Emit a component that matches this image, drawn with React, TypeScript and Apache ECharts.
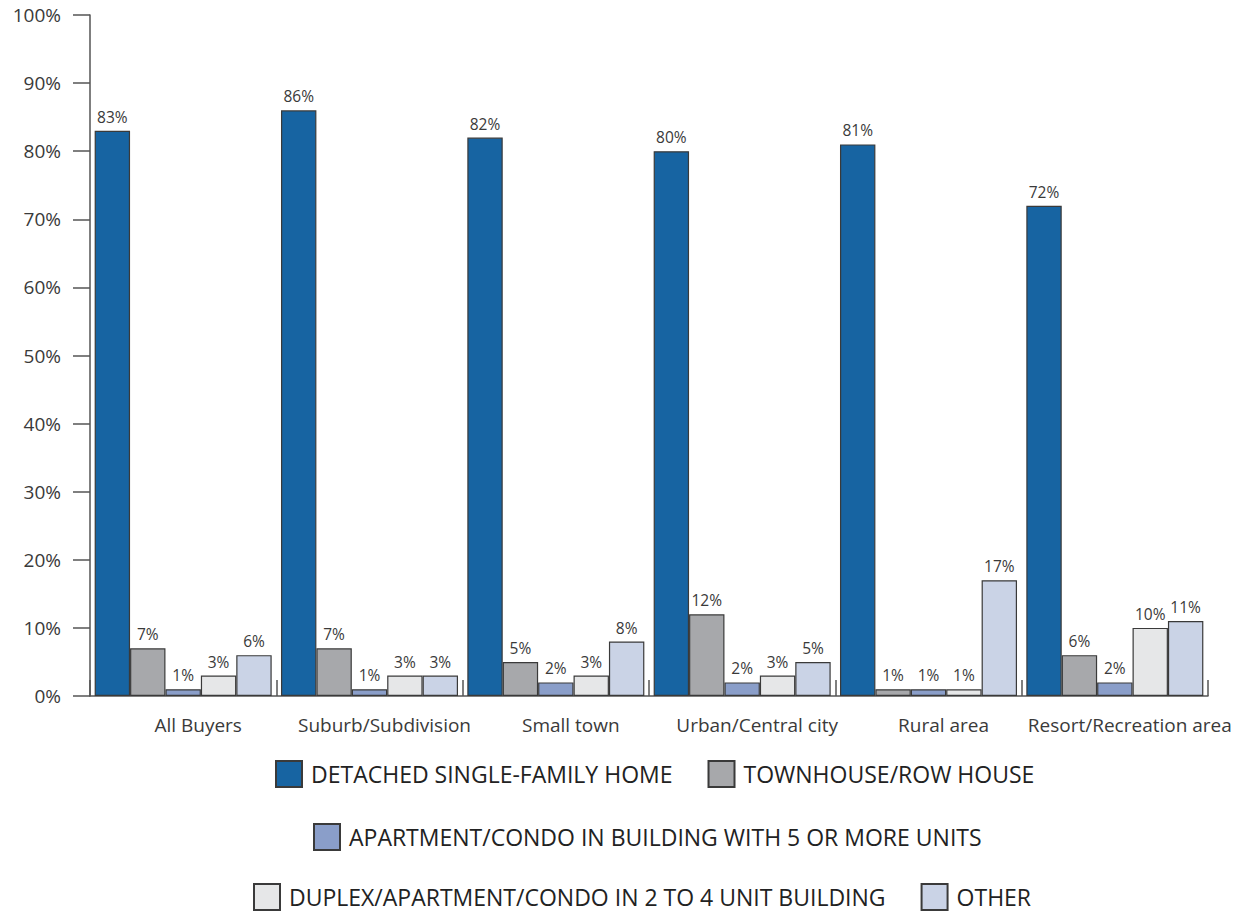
import React, { useEffect, useRef } from "react";
import * as echarts from "echarts";

const categories = [
  "All Buyers",
  "Suburb/Subdivision",
  "Small town",
  "Urban/Central city",
  "Rural area",
  "Resort/Recreation area",
];

const seriesNames = [
  "DETACHED SINGLE-FAMILY HOME",
  "TOWNHOUSE/ROW HOUSE",
  "APARTMENT/CONDO IN BUILDING WITH 5 OR MORE UNITS",
  "DUPLEX/APARTMENT/CONDO IN 2 TO 4 UNIT BUILDING",
  "OTHER",
];

const detached = [83, 86, 82, 80, 81, 72];
const townhouse = [7, 7, 5, 12, 1, 6];
const apartment5 = [1, 1, 2, 2, 1, 2];
const duplex = [3, 3, 3, 3, 1, 10];
const other = [6, 3, 8, 5, 17, 11];

const colors = ["#1764a2", "#a7a8ab", "#8a9ec9", "#e6e7e8", "#cad3e6"];

const mainFont = "'Open Sans', 'Lato', sans-serif";

export default function App() {
  const ref = useRef<HTMLDivElement>(null);
  useEffect(() => {
    if (!ref.current) return;
    const chart = echarts.init(ref.current, undefined, { renderer: "svg" });
    const values = [detached, townhouse, apartment5, duplex, other];
    const series = values.map((v, i) => ({
      name: seriesNames[i],
      type: "bar",
      data: v,
      barGap: "0%",
      barCategoryGap: "5%",
      itemStyle: { color: colors[i], borderColor: "#3a3a3a", borderWidth: 1.2 },
      label: {
        show: true,
        position: "top",
        distance: 6,
        formatter: "{c}%",
        color: "#3a3a3a",
        fontSize: 15.5,
        fontFamily: mainFont,
      },
    }));
    const legendCommon = {
      padding: 0,
      itemWidth: 26,
      itemHeight: 26,
      itemGap: 35,
      icon: "rect",
      textStyle: {
        fontSize: 23,
        lineHeight: 26,
        color: "#222",
        fontFamily: mainFont,
        padding: [0, 0, 0, 4],
      },
      selectedMode: false,
    };
    chart.setOption({
      animation: false,
      textStyle: { fontFamily: mainFont },
      grid: { left: 90, right: 30, top: 15, bottom: 218, containLabel: false },
      legend: [
        { ...legendCommon, left: 275, top: 760, data: [seriesNames[0], seriesNames[1]] },
        { ...legendCommon, left: 313, top: 823, data: [seriesNames[2]] },
        { ...legendCommon, left: 253, top: 883, data: [seriesNames[3], seriesNames[4]] },
      ],
      xAxis: {
        type: "category",
        data: categories,
        axisLine: { show: true, lineStyle: { color: "#555", width: 1.5 } },
        axisTick: { show: true, inside: true, length: 16, lineStyle: { color: "#555", width: 1.5 } },
        axisLabel: {
          interval: 0,
          color: "#3a3a3a",
          fontSize: 19,
          margin: 19,
          padding: [0, 0, 0, 30],
          fontFamily: mainFont,
        },
      },
      yAxis: {
        type: "value",
        min: 0,
        max: 100,
        interval: 10,
        splitLine: { show: false },
        axisLine: { show: true, lineStyle: { color: "#555", width: 1.5 } },
        axisTick: { show: true, length: 17, lineStyle: { color: "#555", width: 1.5 } },
        axisLabel: {
          formatter: "{value}%",
          color: "#3a3a3a",
          fontSize: 19,
          margin: 29,
          fontFamily: mainFont,
        },
      },
      series,
    });
    return () => chart.dispose();
  }, []);
  return <div ref={ref} style={{ width: 1238, height: 914, position: "absolute", left: 0, top: 0 }} />;
}
